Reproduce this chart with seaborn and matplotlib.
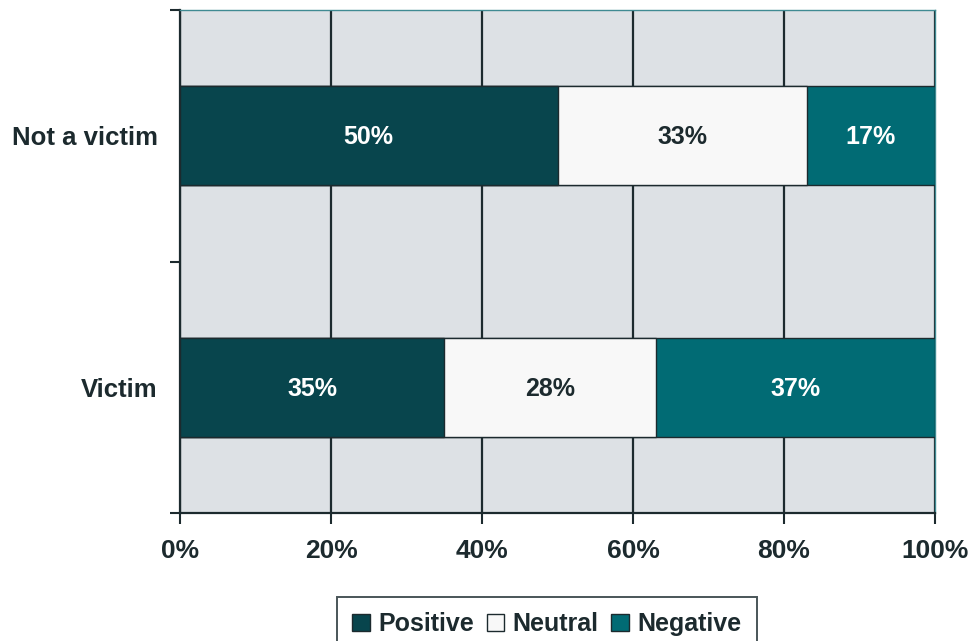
import pandas as pd
import numpy as np
import matplotlib
matplotlib.use("Agg")
import matplotlib.pyplot as plt
from matplotlib.patches import Patch
import seaborn as sns

# ── Data ──────────────────────────────────────────────────────────────────
groups   = ["Not a victim", "Victim"]
positive = [50, 35]
neutral  = [33, 28]
negative = [17, 37]
series   = ["Positive", "Neutral", "Negative"]

C_POS = "#08454d"
C_NEU = "#f8f8f8"
C_NEG = "#016b74"
PLOT_BG = "#dde1e5"
DARK = "#1c2a2e"

sns.set_style("white")
plt.rcParams["font.family"] = ["Liberation Sans", "DejaVu Sans"]
plt.rcParams["font.weight"] = "bold"

df = pd.DataFrame({"group": groups, "Positive": positive,
                   "Neutral": neutral, "Negative": negative})
df["cum_neu"] = df["Positive"] + df["Neutral"]
df["cum_neg"] = df["cum_neu"] + df["Negative"]

fig = plt.figure(figsize=(9.73, 6.41), dpi=100)
ax = fig.add_axes([180 / 973, 1 - 513 / 641, 755 / 973, 503 / 641])
ax.set_facecolor(PLOT_BG)

# stacked bars: draw cumulative totals back to front
for col, color in [("cum_neg", C_NEG), ("cum_neu", C_NEU), ("Positive", C_POS)]:
    sns.barplot(data=df, x=col, y="group", orient="h", color=color,
                width=0.395, edgecolor=DARK, linewidth=1.0,
                saturation=1, ax=ax, zorder=3)

# segment labels
for i, row in df.iterrows():
    starts = [0, row["Positive"], row["cum_neu"]]
    vals = [row["Positive"], row["Neutral"], row["Negative"]]
    colors = ["white", DARK, "white"]
    for s, v, c in zip(starts, vals, colors):
        ax.text(s + v / 2, i + 0.005, f"{v:.0f}%", ha="center", va="center",
                fontsize=18, fontweight="bold", color=c, zorder=5)

ax.set_xlim(0, 100)
ax.set_ylim(1.5, -0.5)
ax.set_xticks([0, 20, 40, 60, 80, 100])
ax.set_xticklabels([f"{t}%" for t in [0, 20, 40, 60, 80, 100]])
ax.set_yticks([0, 1])
ax.set_yticklabels(groups)
ax.set_yticks([-0.5, 0.5, 1.5], minor=True)
ax.tick_params(axis="y", which="major", length=0, pad=16, labelsize=18.5,
               labelcolor=DARK)
ax.tick_params(axis="y", which="minor", length=7, width=1.5, color=DARK,
               direction="out", left=True)
ax.tick_params(axis="x", length=8, width=1.5, color=DARK, direction="out",
               bottom=True, pad=11, labelsize=19, labelcolor=DARK)
for lbl in ax.get_xticklabels() + ax.get_yticklabels():
    lbl.set_fontweight("bold")

ax.set_xlabel("")
ax.set_ylabel("")
ax.grid(axis="x", color=DARK, linewidth=1.6, zorder=1)
ax.set_axisbelow(True)

for side in ["left", "bottom"]:
    ax.spines[side].set_color(DARK)
    ax.spines[side].set_linewidth(1.6)
for side in ["top", "right"]:
    ax.spines[side].set_visible(True)
    ax.spines[side].set_color("#3f8a92")
    ax.spines[side].set_linewidth(1.0)

handles = [Patch(facecolor=c, edgecolor=DARK, linewidth=1.0)
           for c in (C_POS, C_NEU, C_NEG)]
leg = fig.legend(handles, series, loc="upper center", ncol=3,
                 bbox_to_anchor=(0.562, 1 - 597 / 641), borderaxespad=0,
                 prop={"size": 18, "weight": "bold"},
                 handlelength=0.7, handleheight=0.7, handletextpad=0.35,
                 columnspacing=0.5, borderpad=0.6, frameon=True,
                 fancybox=False)
leg.get_frame().set_edgecolor(DARK)
leg.get_frame().set_linewidth(1.4)
for t in leg.get_texts():
    t.set_color(DARK)

fig.savefig("out.png", dpi=100, facecolor="white")
